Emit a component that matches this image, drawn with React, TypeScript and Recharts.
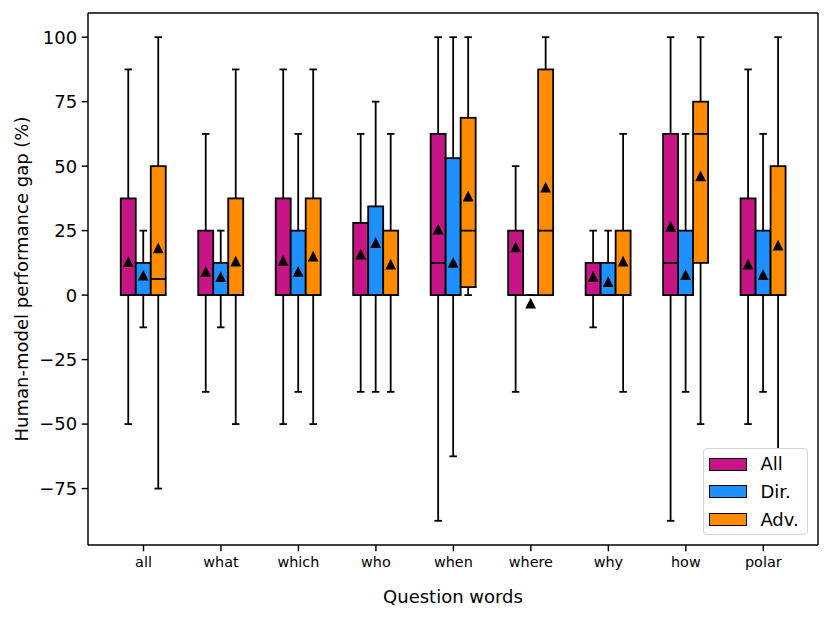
import { ComposedChart, Bar, XAxis, YAxis, Legend } from 'recharts';

// question words on the x axis
const CATEGORIES = ['all', 'what', 'which', 'who', 'when', 'where', 'why', 'how', 'polar'];
const Y_TICKS = [-75, -50, -25, 0, 25, 50, 75, 100];

// "All" questions
const ALL_LOW = [-50, -37.5, -50, -37.5, -87.5, -37.5, -12.5, -87.5, -50];
const ALL_Q1 = [0, 0, 0, 0, 0, 0, 0, 0, 0];
const ALL_MEDIAN = [0, 0, 0, 0, 12.5, 0, 0, 12.5, 0];
const ALL_Q3 = [37.5, 25, 37.5, 28, 62.5, 25, 12.5, 62.5, 37.5];
const ALL_HIGH = [87.5, 62.5, 87.5, 62.5, 100, 50, 25, 100, 87.5];
const ALL_MEAN = [13, 9.2, 13.5, 15.9, 25.6, 18.7, 7.3, 26.7, 12];

// "Dir." questions
const DIR_LOW = [-12.5, -12.5, -37.5, -37.5, -62.5, 0, 0, -37.5, -37.5];
const DIR_Q1 = [0, 0, 0, 0, 0, 0, 0, 0, 0];
const DIR_MEDIAN = [0, 0, 0, 0, 0, 0, 0, 0, 0];
const DIR_Q3 = [12.5, 12.5, 25, 34.4, 53.1, 0, 12.5, 25, 25];
const DIR_HIGH = [25, 25, 62.5, 75, 100, 0, 25, 62.5, 62.5];
const DIR_MEAN = [7.75, 7.2, 9.2, 20.4, 12.7, -3.1, 5.2, 8, 8];

// "Adv." questions
const ADV_LOW = [-75, -50, -50, -37.5, 0, 0, -37.5, -50, -75];
const ADV_Q1 = [0, 0, 0, 0, 3.1, 0, 0, 12.5, 0];
const ADV_MEDIAN = [6.25, 0, 0, 0, 25, 25, 0, 62.5, 0];
const ADV_Q3 = [50, 37.5, 37.5, 25, 68.75, 87.5, 25, 75, 50];
const ADV_HIGH = [100, 87.5, 87.5, 62.5, 100, 100, 62.5, 100, 100];
const ADV_MEAN = [18.3, 13.2, 15.1, 12, 38.4, 41.9, 13.2, 46.2, 19.4];

const SERIES = [
    { key: 'all', name: 'All', color: '#C71585', low: ALL_LOW, q1: ALL_Q1, median: ALL_MEDIAN, q3: ALL_Q3, high: ALL_HIGH, mean: ALL_MEAN },
    { key: 'dir', name: 'Dir.', color: '#1E90FF', low: DIR_LOW, q1: DIR_Q1, median: DIR_MEDIAN, q3: DIR_Q3, high: DIR_HIGH, mean: DIR_MEAN },
    { key: 'adv', name: 'Adv.', color: '#FF8C00', low: ADV_LOW, q1: ADV_Q1, median: ADV_MEDIAN, q3: ADV_Q3, high: ADV_HIGH, mean: ADV_MEAN },
];

const data = CATEGORIES.map((name, i) => {
    const row: any = { name };
    SERIES.forEach(s => {
        row[s.key] = {
            low: s.low[i], q1: s.q1[i], median: s.median[i],
            q3: s.q3[i], high: s.high[i], mean: s.mean[i],
        };
    });
    return row;
});

// full vertical extent of one box (whiskers + mean marker)
const spanOf = (st: any): [number, number] => [
    Math.min(st.low, st.q1, st.mean),
    Math.max(st.high, st.q3, st.mean),
];

const LW = 1.8;

function makeBoxShape(key: string, color: string) {
    return (props: any) => {
        const { x, y, width, height, payload } = props;
        const st = payload[key];
        const [lo, hi] = spanOf(st);
        const top = Math.min(y, y + height);
        const h = Math.abs(height);
        // map a value inside the bar's range to pixels
        const py = (v: number) => top + ((hi - v) / (hi - lo)) * h;
        const cx = x + width / 2;
        const cap = width / 4;
        const m = py(st.mean);
        const t = 5.4;
        return (
            <g>
                <line x1={cx} x2={cx} y1={py(st.q3)} y2={py(st.high)} stroke="#000" strokeWidth={LW} />
                <line x1={cx} x2={cx} y1={py(st.q1)} y2={py(st.low)} stroke="#000" strokeWidth={LW} />
                <line x1={cx - cap} x2={cx + cap} y1={py(st.high)} y2={py(st.high)} stroke="#000" strokeWidth={LW} />
                <line x1={cx - cap} x2={cx + cap} y1={py(st.low)} y2={py(st.low)} stroke="#000" strokeWidth={LW} />
                <rect
                    x={x}
                    y={py(st.q3)}
                    width={width}
                    height={py(st.q1) - py(st.q3)}
                    fill={color}
                    stroke="#000"
                    strokeWidth={LW}
                />
                <line x1={x} x2={x + width} y1={py(st.median)} y2={py(st.median)} stroke="#000" strokeWidth={LW} />
                <polygon points={`${cx},${m - t} ${cx - t},${m + t} ${cx + t},${m + t}`} fill="#000" />
            </g>
        );
    };
}

const fmtTick = (v: number) => (v < 0 ? '\u2212' + Math.abs(v) : String(v));

function LegendBox() {
    return (
        <div
            style={{
                position: 'relative',
                width: 105.6,
                height: 86.7,
                boxSizing: 'border-box',
                border: '1.4px solid #d6d6d6',
                borderRadius: 4,
                background: '#fff',
            }}
        >
            {SERIES.map((s, i) => (
                <div key={s.key} style={{ position: 'absolute', left: 0, top: 15 + i * 27.7 - 14, height: 28, display: 'flex', alignItems: 'center' }}>
                    <div
                        style={{
                            marginLeft: 5.2,
                            width: 38,
                            height: 13,
                            boxSizing: 'border-box',
                            background: s.color,
                            border: '1.8px solid #000',
                        }}
                    />
                    <span style={{ marginLeft: 13.5, fontSize: 18, color: '#000', lineHeight: '28px' }}>{s.name}</span>
                </div>
            ))}
        </div>
    );
}

export default function App() {
    return (
        <div style={{ position: 'absolute', left: 0, top: 0, fontFamily: 'DejaVu Sans', background: '#fff' }}>
            <ComposedChart
                width={831}
                height={621}
                data={data}
                margin={{ top: 12, right: 12, bottom: 0, left: 0 }}
                barGap={0}
                barCategoryGap={16}
            >
                <XAxis
                    dataKey="name"
                    height={76}
                    padding={{ left: 16.75, right: 15.95 }}
                    stroke="#000"
                    strokeWidth={1.44}
                    tickSize={6.3}
                    tickMargin={5.7}
                    tick={{ fontSize: 14.4, fill: '#000' }}
                    label={{
                        content: (p: any) => {
                            const vb = p.viewBox;
                            return (
                                <text x={vb.x + vb.width / 2} y={603} textAnchor="middle" fontSize={18} fill="#000">
                                    Question words
                                </text>
                            );
                        },
                    }}
                />
                <XAxis xAxisId="top" orientation="top" dataKey="name" height={1} tick={false} tickLine={false} stroke="#000" strokeWidth={1.44} />
                <YAxis
                    width={88}
                    type="number"
                    domain={[-96.875, 109.375]}
                    ticks={Y_TICKS}
                    tickFormatter={fmtTick}
                    allowDataOverflow
                    stroke="#000"
                    strokeWidth={1.44}
                    tickSize={6.3}
                    tickMargin={4.5}
                    tick={{ fontSize: 18, fill: '#000' }}
                    label={{
                        content: (p: any) => {
                            const vb = p.viewBox;
                            const cx = 21;
                            const cy = vb.y + vb.height / 2;
                            return (
                                <text
                                    x={cx}
                                    y={cy}
                                    transform={`rotate(-90, ${cx}, ${cy})`}
                                    textAnchor="middle"
                                    dominantBaseline="central"
                                    fontSize={18}
                                    fill="#000"
                                >
                                    Human-model performance gap (%)
                                </text>
                            );
                        },
                    }}
                />
                <YAxis yAxisId="right" orientation="right" width={1} domain={[0, 1]} tick={false} tickLine={false} stroke="#000" strokeWidth={1.44} />
                {SERIES.map(s => (
                    <Bar
                        key={s.key}
                        name={s.name}
                        dataKey={(row: any) => spanOf(row[s.key])}
                        fill={s.color}
                        shape={makeBoxShape(s.key, s.color)}
                        isAnimationActive={false}
                    />
                ))}
                <Legend
                    layout="vertical"
                    align="center"
                    verticalAlign="middle"
                    wrapperStyle={{ left: 702.7, top: 448.3, width: 105.6, height: 86.7 }}
                    content={() => <LegendBox />}
                />
            </ComposedChart>
        </div>
    );
}
